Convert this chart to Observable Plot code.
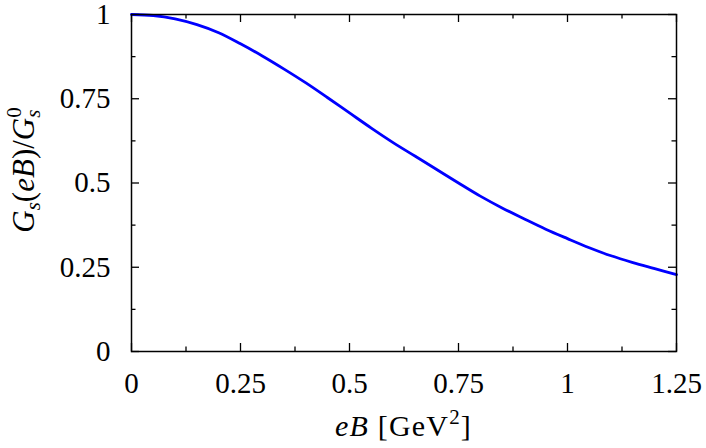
<!DOCTYPE html>
<html>
<head>
<meta charset="utf-8">
<script src="https://cdn.jsdelivr.net/npm/d3@7"></script>
<script src="https://cdn.jsdelivr.net/npm/@observablehq/plot@0.6"></script>
<style>
  html, body { margin: 0; padding: 0; background: white; }
  svg { display: block; }
  svg text, svg tspan { font-family: "Liberation Serif", "DejaVu Serif", serif !important; }
</style>
</head>
<body>
<div id="chart"></div>
<script>
// eB [GeV^2]
const eB = [0, 0.05, 0.1, 0.15, 0.2, 0.25, 0.3, 0.35, 0.4, 0.45, 0.5, 0.55, 0.6, 0.65, 0.7, 0.75, 0.8, 0.85, 0.9, 0.95, 1.0, 1.05, 1.1, 1.15, 1.2, 1.25];
// G_s(eB)/G_s^0
const ratio = [1.0, 0.997, 0.987, 0.970, 0.946, 0.913, 0.877, 0.838, 0.797, 0.753, 0.708, 0.663, 0.620, 0.580, 0.540, 0.500, 0.461, 0.426, 0.394, 0.363, 0.335, 0.308, 0.284, 0.264, 0.246, 0.228];

const xMajor = [0, 0.25, 0.5, 0.75, 1, 1.25];
const xMinor = [0.125, 0.375, 0.625, 0.875, 1.125];
const yMajor = [0, 0.25, 0.5, 0.75, 1];
const yMinor = [0.125, 0.375, 0.625, 0.875];

const data = eB.map((x, i) => ({x, y: ratio[i]}));
const fmt = d => String(d);

const W = 706, H = 448, mL = 131, mR = 30, mT = 14, mB = 97;
const innerW = W - mL - mR, innerH = H - mT - mB;
const majLen = 8, minLen = 4.5, tickW = 1.3;
const FONT = "Liberation Serif, DejaVu Serif, serif";

const svg = Plot.plot({
  width: W, height: H,
  marginLeft: mL, marginRight: mR, marginTop: mT, marginBottom: mB,
  style: {fontFamily: FONT, fontSize: "29px", background: "white", color: "black"},
  x: {domain: [0, 1.25]},
  y: {domain: [0, 1]},
  marks: [
    Plot.axisX(xMajor, {tickSize: 0, tickPadding: 21, tickFormat: fmt, label: null, fontSize: 29, fontFamily: FONT}),
    Plot.axisY(yMajor, {tickSize: 0, tickPadding: 21, tickFormat: fmt, label: null, fontSize: 29, fontFamily: FONT}),
    // inward ticks: bottom / top
    Plot.tickX(xMajor, {x: d => d, insetTop: innerH - majLen, stroke: "black", strokeWidth: tickW}),
    Plot.tickX(xMajor, {x: d => d, insetBottom: innerH - majLen, stroke: "black", strokeWidth: tickW}),
    Plot.tickX(xMinor, {x: d => d, insetTop: innerH - minLen, stroke: "black", strokeWidth: tickW}),
    Plot.tickX(xMinor, {x: d => d, insetBottom: innerH - minLen, stroke: "black", strokeWidth: tickW}),
    // inward ticks: left / right
    Plot.tickY(yMajor, {y: d => d, insetRight: innerW - majLen, stroke: "black", strokeWidth: tickW}),
    Plot.tickY(yMajor, {y: d => d, insetLeft: innerW - majLen, stroke: "black", strokeWidth: tickW}),
    Plot.tickY(yMinor, {y: d => d, insetRight: innerW - minLen, stroke: "black", strokeWidth: tickW}),
    Plot.tickY(yMinor, {y: d => d, insetLeft: innerW - minLen, stroke: "black", strokeWidth: tickW}),
    Plot.line(data, {x: "x", y: "y", stroke: "#0000ff", strokeWidth: 2.8, curve: "catmull-rom"}),
    Plot.frame({stroke: "black", strokeWidth: 1.5})
  ]
});

const s = d3.select(svg);
// x-axis label: eB [GeV^2]
const xl = s.append("text")
  .attr("x", mL + innerW / 2).attr("y", 436)
  .attr("text-anchor", "middle")
  .attr("font-family", FONT)
  .attr("letter-spacing", 1.2)
  .attr("font-size", 30).attr("fill", "black");
xl.append("tspan").attr("font-style", "italic").text("eB");
xl.append("tspan").text(" [GeV");
xl.append("tspan").attr("font-size", 21).attr("dy", -12).text("2");
xl.append("tspan").attr("dy", 12).text("]");

// y-axis label: G_s(eB)/G_s^0
const yl = s.append("text")
  .attr("transform", `translate(34,170) rotate(-90)`)
  .attr("text-anchor", "middle")
  .attr("font-family", FONT)
  .attr("font-size", 31).attr("fill", "black");
yl.append("tspan").attr("font-style", "italic").text("G");
yl.append("tspan").attr("font-style", "italic").attr("font-size", 21).attr("dy", 6).text("s");
yl.append("tspan").attr("dy", -6).text("(");
yl.append("tspan").attr("font-style", "italic").text("eB");
yl.append("tspan").text(")/");
yl.append("tspan").attr("font-style", "italic").text("G");
yl.append("tspan").attr("font-size", 21).attr("dy", -13).text("0");
yl.append("tspan").attr("font-style", "italic").attr("font-size", 21).attr("dx", -10.5).attr("dy", 19).text("s");

document.getElementById("chart").append(svg);
</script>
</body>
</html>
